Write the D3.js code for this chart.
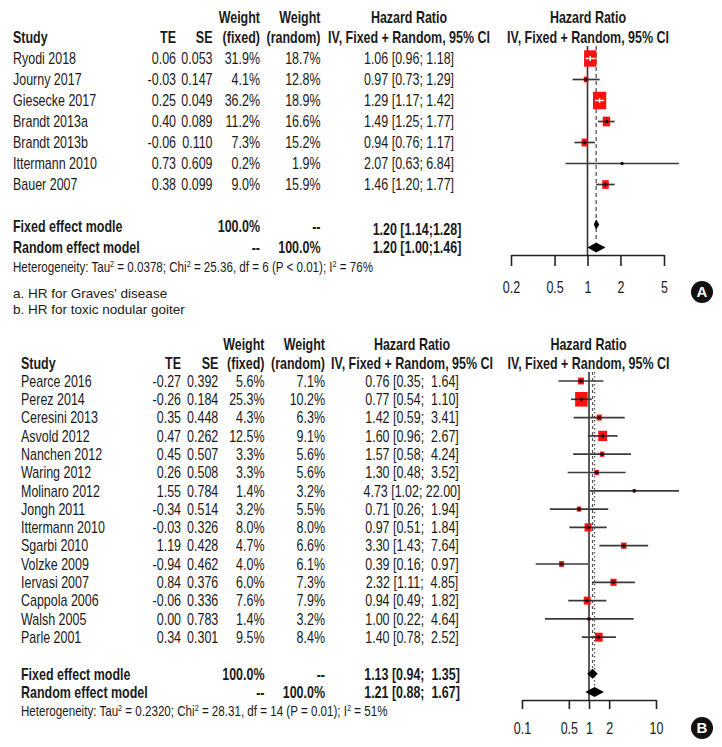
<!DOCTYPE html>
<html><head><meta charset="utf-8">
<script src="https://cdn.jsdelivr.net/npm/d3@7"></script>
<style>
html,body{margin:0;padding:0;background:#fff;}
svg text{white-space:pre;}
</style></head>
<body>
<svg id="chart" width="722" height="747"></svg>
<script>
// ---------- Panel A data ----------
const studiesA = ["Ryodi 2018","Journy 2017","Giesecke 2017","Brandt 2013a","Brandt 2013b","Ittermann 2010","Bauer 2007"];
const teA = ["0.06","-0.03","0.25","0.40","-0.06","0.73","0.38"];
const seA = ["0.053","0.147","0.049","0.089","0.110","0.609","0.099"];
const wFixedA = [31.9,4.1,36.2,11.2,7.3,0.2,9.0];
const wRandomA = [18.7,12.8,18.9,16.6,15.2,1.9,15.9];
const hrA = [1.06,0.97,1.29,1.49,0.94,2.07,1.46];
const lowA = [0.96,0.73,1.17,1.25,0.76,0.63,1.20];
const upA = [1.18,1.29,1.42,1.77,1.17,6.84,1.77];
const hrTextA = ["1.06 [0.96; 1.18]","0.97 [0.73; 1.29]","1.29 [1.17; 1.42]","1.49 [1.25; 1.77]","0.94 [0.76; 1.17]","2.07 [0.63; 6.84]","1.46 [1.20; 1.77]"];
const summaryA = {fixed:[1.20,1.14,1.28], random:[1.20,1.00,1.46]};
const summaryTextA = ["1.20 [1.14;1.28]","1.20 [1.00;1.46]"];
const hetA = ["Heterogeneity: Tau","2"," = 0.0378; Chi","2"," = 25.36, df = 6 (P < 0.01); I","2"," = 76%"];
const ticksA = [0.2,0.5,1,2,5];
const notesA = ["a. HR for Graves' disease","b. HR for toxic nodular goiter"];

// ---------- Panel B data ----------
const studiesB = ["Pearce 2016","Perez 2014","Ceresini 2013","Asvold 2012","Nanchen 2012","Waring 2012","Molinaro 2012","Jongh 2011","Ittermann 2010","Sgarbi 2010","Volzke 2009","Iervasi 2007","Cappola 2006","Walsh 2005","Parle 2001"];
const teB = ["-0.27","-0.26","0.35","0.47","0.45","0.26","1.55","-0.34","-0.03","1.19","-0.94","0.84","-0.06","0.00","0.34"];
const seB = ["0.392","0.184","0.448","0.262","0.507","0.508","0.784","0.514","0.326","0.428","0.462","0.376","0.336","0.783","0.301"];
const wFixedB = [5.6,25.3,4.3,12.5,3.3,3.3,1.4,3.2,8.0,4.7,4.0,6.0,7.6,1.4,9.5];
const wRandomB = [7.1,10.2,6.3,9.1,5.6,5.6,3.2,5.5,8.0,6.6,6.1,7.3,7.9,3.2,8.4];
const hrB = [0.76,0.77,1.42,1.60,1.57,1.30,4.73,0.71,0.97,3.30,0.39,2.32,0.94,1.00,1.40];
const lowB = [0.35,0.54,0.59,0.96,0.58,0.48,1.02,0.26,0.51,1.43,0.16,1.11,0.49,0.22,0.78];
const upB = [1.64,1.10,3.41,2.67,4.24,3.52,22.00,1.94,1.84,7.64,0.97,4.85,1.82,4.64,2.52];
const hrTextB = ["0.76 [0.35;  1.64]","0.77 [0.54;  1.10]","1.42 [0.59;  3.41]","1.60 [0.96;  2.67]","1.57 [0.58;  4.24]","1.30 [0.48;  3.52]","4.73 [1.02; 22.00]","0.71 [0.26;  1.94]","0.97 [0.51;  1.84]","3.30 [1.43;  7.64]","0.39 [0.16;  0.97]","2.32 [1.11;  4.85]","0.94 [0.49;  1.82]","1.00 [0.22;  4.64]","1.40 [0.78;  2.52]"];
const summaryB = {fixed:[1.13,0.94,1.35], random:[1.21,0.88,1.67]};
const summaryTextB = ["1.13 [0.94;  1.35]","1.21 [0.88;  1.67]"];
const hetB = ["Heterogeneity: Tau","2"," = 0.2320; Chi","2"," = 28.31, df = 14 (P = 0.01); I","2"," = 51%"];
const ticksB = [0.1,0.5,1,2,10];

const FONT = "'Liberation Sans',Arial,sans-serif";
const SX = 0.78; // horizontal condensing to mimic a narrow face

const svg = d3.select("#chart");

function panel(cfg){
  const g = svg.append("g");
  const n = cfg.studies.length;
  const rowY = d3.scaleLinear().domain([0,1]).range([cfg.row0, cfg.row0+cfg.dy]);
  const x = d3.scaleLog().domain(cfg.domain).range(cfg.xr);
  const txt = (xx,yy,s,anchor,bold,size,sx) => g.append("text")
      .attr("transform",`translate(${xx},${yy}) scale(${sx===undefined?SX:sx},1)`)
      .attr("dy","0.36em")
      .attr("text-anchor",anchor||"start")
      .attr("font-family",FONT)
      .attr("font-size",size||cfg.fs)
      .attr("font-weight",bold?"bold":"normal")
      .attr("fill","#1a1a1a").text(s);
  // headers
  txt(cfg.cx.wf, cfg.h1, "Weight","end",true);
  txt(cfg.cx.wr, cfg.h1, "Weight","end",true);
  txt(cfg.cx.hr, cfg.h1, "Hazard Ratio","middle",true);
  txt(cfg.cx.fp, cfg.h1, "Hazard Ratio","middle",true);
  txt(cfg.cx.study, cfg.h2, "Study","start",true);
  txt(cfg.cx.te, cfg.h2, "TE","end",true);
  txt(cfg.cx.se, cfg.h2, "SE","end",true);
  txt(cfg.cx.wf, cfg.h2, "(fixed)","end",true);
  txt(cfg.cx.wr, cfg.h2, "(random)","end",true);
  txt(cfg.cx.hr, cfg.h2, "IV, Fixed + Random, 95% CI","middle",true);
  txt(cfg.cx.fp, cfg.h2, "IV, Fixed + Random, 95% CI","middle",true);
  // rows
  for(let i=0;i<n;i++){
    const y = rowY(i);
    txt(cfg.cx.study,y,cfg.studies[i]);
    txt(cfg.cx.te,y,cfg.te[i],"end");
    txt(cfg.cx.se,y,cfg.se[i],"end");
    txt(cfg.cx.wf,y,cfg.wf[i].toFixed(1)+"%","end");
    txt(cfg.cx.wr,y,cfg.wr[i].toFixed(1)+"%","end");
    txt(cfg.cx.hr,y,cfg.hrText[i],"middle");
  }
  const yF = rowY(n+1), yR = rowY(n+2);
  txt(cfg.cx.study,yF,"Fixed effect modle","start",true);
  txt(cfg.cx.wf,yF,"100.0%","end",true);
  txt(cfg.cx.wr,yF,"--","end",true);
  txt(cfg.cx.hr+cfg.sumShift,yF+cfg.sumDy,cfg.sumText[0],"middle",true);
  txt(cfg.cx.study,yR,"Random effect model","start",true);
  txt(cfg.cx.wf,yR,"--","end",true);
  txt(cfg.cx.wr,yR,"100.0%","end",true);
  txt(cfg.cx.hr+cfg.sumShift,yR,cfg.sumText[1],"middle",true);
  // heterogeneity
  const ht = g.append("text").attr("transform",`translate(${cfg.cx.study},${cfg.hetY}) scale(0.8,1)`).attr("dy","0.36em")
     .attr("font-family",FONT).attr("font-size",cfg.hetFs).attr("fill","#1a1a1a");
  cfg.het.forEach((s,k)=>{
    const sp = ht.append("tspan").text(s);
    if(k%2===1){ sp.attr("font-size",cfg.hetFs*0.62).attr("dy",-5); }
    else if(k>0){ sp.attr("dy",5); }
  });
  // notes
  if(cfg.notes){
    cfg.notes.forEach((s,k)=>txt(cfg.cx.study, cfg.notesY[k], s, "start", false, 13.5, 1));
  }
  // forest plot
  const top = cfg.h2+9;
  g.append("line").attr("x1",x(1)).attr("x2",x(1)).attr("y1",top).attr("y2",cfg.axisY)
    .attr("stroke","#333").attr("stroke-width",1.6);
  cfg.refLines.forEach(r=>{
    g.append("line").attr("x1",x(r.v)).attr("x2",x(r.v)).attr("y1",top).attr("y2",r.y2)
      .attr("stroke","#555").attr("stroke-width",1.3).attr("stroke-dasharray",r.dash);
  });
  for(let i=0;i<n;i++){
    const y = rowY(i);
    const xl = x(cfg.low[i]), xu = x(cfg.up[i]), xe = x(cfg.hr[i]);
    const bw = cfg.sqW*Math.sqrt(cfg.wf[i]), bh = cfg.sqH*Math.sqrt(cfg.wf[i]);
    const inside = xl >= xe-bw/2 && xu <= xe+bw/2;
    if(!inside){
      g.append("line").attr("x1",xl).attr("x2",xu).attr("y1",y).attr("y2",y)
        .attr("stroke","#3a3a3a").attr("stroke-width",1.7);
    }
    g.append("rect").attr("x",xe-bw/2).attr("y",y-bh/2).attr("width",bw).attr("height",bh)
      .attr("fill","#ff1010");
    if(inside){
      g.append("line").attr("x1",xl).attr("x2",xu).attr("y1",y).attr("y2",y)
        .attr("stroke","#fff").attr("stroke-width",1.4);
      g.append("line").attr("x1",xe).attr("x2",xe).attr("y1",y-2.5).attr("y2",y+2.5)
        .attr("stroke","#fff").attr("stroke-width",1.4);
    } else {
      g.append("line").attr("x1",Math.max(xl,xe-bw/2)).attr("x2",Math.min(xu,xe+bw/2)).attr("y1",y).attr("y2",y)
        .attr("stroke","#222").attr("stroke-width",1.4);
      g.append("circle").attr("cx",xe).attr("cy",y).attr("r",1.7).attr("fill","#111");
    }
  }
  // diamonds
  [[cfg.sum.fixed,yF+cfg.diaDy],[cfg.sum.random,yR]].forEach(([v,y])=>{
    const p = [[x(v[1]),y],[x(v[0]),y-cfg.diaH],[x(v[2]),y],[x(v[0]),y+cfg.diaH]];
    g.append("path").attr("d","M"+p.map(q=>q.join(",")).join("L")+"Z").attr("fill","#000");
  });
  // axis
  const axis = d3.axisBottom(x).tickValues(cfg.ticks).tickFormat(d=>String(d)).tickSizeOuter(0).tickSizeInner(cfg.tickLen).tickPadding(cfg.tickPad);
  const ag = g.append("g").attr("transform",`translate(0,${cfg.axisY})`).call(axis);
  ag.select(".domain").attr("stroke","#222").attr("stroke-width",1.6);
  ag.selectAll(".tick line").attr("stroke","#222").attr("stroke-width",1.6);
  ag.selectAll(".tick text").attr("font-family",FONT).attr("font-size",16).attr("fill","#1a1a1a")
    .attr("transform",`scale(${SX},1)`);
  // letter circle
  g.append("circle").attr("cx",cfg.badge[0]).attr("cy",cfg.badge[1]).attr("r",11).attr("fill","#111");
  g.append("text").attr("x",cfg.badge[0]).attr("y",cfg.badge[1]).attr("dy","0.36em").attr("text-anchor","middle")
    .attr("font-family",FONT).attr("font-weight","bold").attr("font-size",15).attr("fill","#fff").text(cfg.letter);
}

panel({
  studies:studiesA, te:teA, se:seA, wf:wFixedA, wr:wRandomA, hr:hrA, low:lowA, up:upA, hrText:hrTextA,
  sum:summaryA, sumText:summaryTextA, het:hetA, ticks:ticksA, notes:notesA, notesY:[293,309],
  fs:16, hetFs:14.5, h1:17, h2:37, row0:58.5, dy:21,
  cx:{study:13, te:176, se:212.5, wf:260, wr:320.5, hr:409, fp:588},
  sumShift:8, sumDy:3, diaDy:-2, diaH:5,
  domain:[0.2,5], xr:[511,664], axisY:255, tickLen:11, tickPad:16,
  refLines:[{v:1.20,y2:240,dash:"4,3"}],
  sqW:2.2, sqH:2.9, hetY:267, badge:[702,292], letter:"A"
});
panel({
  studies:studiesB, te:teB, se:seB, wf:wFixedB, wr:wRandomB, hr:hrB, low:lowB, up:upB, hrText:hrTextB,
  sum:summaryB, sumText:summaryTextB, het:hetB, ticks:ticksB, notes:null,
  fs:16, hetFs:14.5, h1:344, h2:363, row0:381, dy:18.3,
  cx:{study:21, te:181, se:218.3, wf:264.5, wr:325, hr:412, fp:588.5},
  sumShift:0, sumDy:0, diaDy:0, diaH:5,
  domain:[0.1,10], xr:[522,656], axisY:700, tickLen:9, tickPad:14,
  refLines:[{v:1.13,y2:668,dash:"3,3"},{v:1.21,y2:686,dash:"1.5,2.5"}],
  sqW:2.5, sqH:2.9, hetY:711, badge:[702,728], letter:"B"
});
</script>
</body></html>
